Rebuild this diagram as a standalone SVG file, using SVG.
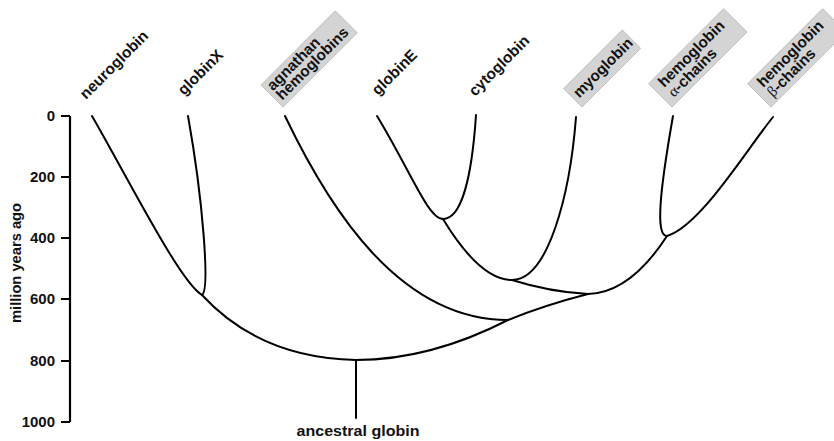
<svg xmlns="http://www.w3.org/2000/svg" width="834" height="441" viewBox="0 0 834 441">
<style>
text{font-family:"Liberation Sans",Arial,Helvetica,sans-serif;font-weight:bold;fill:#111}
.lbl{font-size:15.5px}
.bx{font-size:15.3px}
.tick{font-size:15px;text-anchor:end}
.box{fill:#d4d4d4;stroke:#b8b8b8;stroke-width:0.8}
.br{fill:none;stroke:#000;stroke-width:2;stroke-linecap:round}
.ax{fill:none;stroke:#000;stroke-width:2.2}
.gr{font-family:"Liberation Serif","Times New Roman",serif;font-weight:normal}
</style>
<rect width="834" height="441" fill="#ffffff"/>
<g id="axis">
<path class="ax" d="M70,116V422M61,116H70M61,177H70M61,238H70M61,299H70M61,361H70M61,422H70"/>
<text class="tick" x="55" y="121">0</text>
<text class="tick" x="55" y="182">200</text>
<text class="tick" x="55" y="243">400</text>
<text class="tick" x="55" y="304">600</text>
<text class="tick" x="55" y="366">800</text>
<text class="tick" x="55" y="427">1000</text>
<text x="21" y="263" transform="rotate(-90 21 263)" text-anchor="middle" style="font-size:14.7px">million years ago</text>
</g>
<g id="connectors">
<path class="br" d="M92,116C130,182 180,282 202,295"/>
<path class="br" d="M188,116C203,200 210,290 202,295"/>
<path class="br" d="M202,295Q260,358 356,360"/>
<path class="br" d="M356,360V418"/>
<path class="br" d="M285,116C330,210 400,320 508,320"/>
<path class="br" d="M508,320Q430,360 356,360"/>
<path class="br" d="M588,294Q545,305 508,320"/>
<path class="br" d="M512,280Q550,292 588,294"/>
<path class="br" d="M667,236Q630,293 588,294"/>
<path class="br" d="M443,219Q480,280 512,280"/>
<path class="br" d="M576,117C570,195 548,280 512,280"/>
<path class="br" d="M377,116C410,170 428,219 443,219"/>
<path class="br" d="M476,115C472,175 462,219 443,219"/>
<path class="br" d="M673,116C660,190 655,236 667,236"/>
<path class="br" d="M773,117C745,152 700,226 667,236"/>
</g>
<g id="neuroglobin"><text class="lbl" transform="translate(86,100) rotate(-45)">neuroglobin</text></g>
<g id="globinX"><text class="lbl" transform="translate(184,96) rotate(-45)">globinX</text></g>
<g id="agnathan" transform="translate(283,107) rotate(-45)">
<rect class="box" x="0" y="-31" width="105" height="31"/>
<text class="bx" x="4" y="-18">agnathan</text>
<text class="bx" x="4" y="-5">hemoglobins</text>
</g>
<g id="globinE"><text class="lbl" transform="translate(378,96) rotate(-45)">globinE</text></g>
<g id="cytoglobin"><text class="lbl" transform="translate(475,97) rotate(-45)">cytoglobin</text></g>
<g id="myoglobin" transform="translate(582,107) rotate(-45)">
<rect class="box" x="0" y="-26" width="83" height="26"/>
<text class="bx" x="4" y="-8">myoglobin</text>
</g>
<g id="hb-alpha" transform="translate(672,107) rotate(-45)">
<rect class="box" x="0" y="-33" width="106" height="33"/>
<text class="bx" x="8" y="-19">hemoglobin</text>
<text class="bx" x="8" y="-5"><tspan class="gr">α</tspan>-chains</text>
</g>
<g id="hb-beta" transform="translate(771,107) rotate(-45)">
<rect class="box" x="0" y="-33" width="106" height="33"/>
<text class="bx" x="8" y="-19">hemoglobin</text>
<text class="bx" x="8" y="-5"><tspan class="gr">β</tspan>-chains</text>
</g>
<g id="ancestral"><text x="358" y="436" text-anchor="middle" style="font-size:15px" textLength="123" lengthAdjust="spacingAndGlyphs">ancestral globin</text></g>
</svg>
